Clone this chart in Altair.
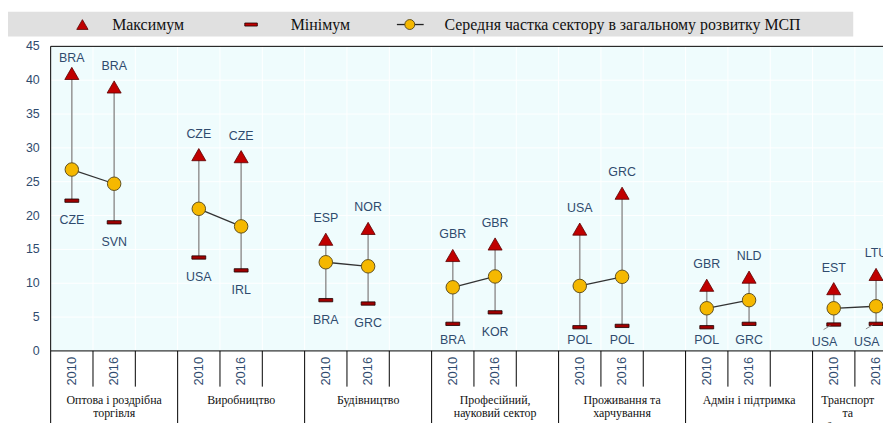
import altair as alt
import pandas as pd

# ---------------- data ----------------
categories = [
    "Оптова і роздрібна\nторгівля",
    "Виробництво",
    "Будівництво",
    "Професійний,\nнауковий сектор",
    "Проживання та\nхарчування",
    "Адмін і підтримка",
    "Транспорт\nта\nзберігання",
]
years = ["2010", "2016"]

max_2010 = [41.0, 29.0, 16.5, 14.1, 18.0, 9.7, 9.2]
max_2016 = [39.0, 28.7, 18.1, 15.8, 23.3, 10.9, 11.3]
mean_2010 = [26.8, 21.0, 13.1, 9.4, 9.6, 6.3, 6.3]
mean_2016 = [24.7, 18.4, 12.5, 11.0, 10.95, 7.5, 6.6]
min_2010 = [22.2, 13.8, 7.5, 4.0, 3.5, 3.5, 3.9]
min_2016 = [19.0, 11.9, 7.0, 5.7, 3.7, 4.0, 4.0]

max_cc_2010 = ["BRA", "CZE", "ESP", "GBR", "USA", "GBR", "EST"]
max_cc_2016 = ["BRA", "CZE", "NOR", "GBR", "GRC", "NLD", "LTU"]
min_cc_2010 = ["CZE", "USA", "BRA", "BRA", "POL", "POL", "USA"]
min_cc_2016 = ["SVN", "IRL", "GRC", "KOR", "POL", "GRC", "USA"]

y_ticks = [0, 5, 10, 15, 20, 25, 30, 35, 40, 45]
legend_labels = ["Максимум", "Мінімум", "Середня частка сектору в загальному розвитку МСП"]

# ---------------- layout constants ----------------
PLOT_W = 839
PLOT_H = 307
SLOT_PX = 128 / 3
XMAX = PLOT_W / SLOT_PX

LABEL_COLOR = "#2f4b6e"
SANS = "Liberation Sans"
SERIF = "Liberation Serif"

maxs = [max_2010, max_2016]
means = [mean_2010, mean_2016]
mins = [min_2010, min_2016]
maxcc = [max_cc_2010, max_cc_2016]
mincc = [min_cc_2010, min_cc_2016]

rows = []
for i, cat in enumerate(categories):
    for j, yr in enumerate(years):
        slot = 3 * i + j + 0.5
        mx, mn = maxs[j][i], mins[j][i]
        last = i == len(categories) - 1
        rows.append(dict(
            cat=str(i), year=yr, slot=slot,
            mx=mx, mean=means[j][i], mn=mn,
            mxcc=maxcc[j][i], mncc=mincc[j][i],
            mxly=min(mx + 3.1, 43.3),
            mnly=1.36 if last else max(mn - 2.9, 1.55),
            mnlx=slot - 0.22 if last else slot,
            lead=last,
            lx1=slot - 0.24, lx2=slot - 0.08,
            ly1=mn - 0.75, ly2=mn - 0.15,
        ))
df = pd.DataFrame(rows)
lead_df = df[df["lead"]]

# category label centred on the visible part of its band
cat_df = pd.DataFrame({"slot": [(3 * i + min(3 * i + 3, XMAX)) / 2 for i in range(len(categories))],
                       "label": categories})
long_div = pd.DataFrame({"slot": [3 * i for i in range(len(categories)) if 3 * i <= XMAX]})
short_div = pd.DataFrame({"slot": [s for s in range(1, 21) if s % 3 != 0 and s <= XMAX]})
vgrid = pd.DataFrame({"slot": [s for s in range(1, 21) if s <= XMAX]})
ygrid = pd.DataFrame({"v": y_ticks, "label": [str(t) for t in y_ticks]})
one = pd.DataFrame({"a": [0]})

xs = alt.Scale(domain=[0, XMAX], nice=False, zero=False)
ys = alt.Scale(domain=[0, 45], nice=False, zero=False)

def X(field):
    return alt.X(f"{field}:Q", scale=xs, axis=None)

def Y(field):
    return alt.Y(f"{field}:Q", scale=ys, axis=None)

# manual grid & axes
hgrid = alt.Chart(ygrid).mark_rule(color="white", strokeWidth=1).encode(
    y=Y("v"), x=alt.value(0), x2=alt.value(PLOT_W))
vgrid_l = alt.Chart(vgrid).mark_rule(color="white", strokeWidth=1).encode(
    x=X("slot"), y=alt.value(0), y2=alt.value(PLOT_H))
ylabels = alt.Chart(ygrid).mark_text(font=SANS, fontSize=12.5, color=LABEL_COLOR,
                                     align="right", baseline="middle").encode(
    y=Y("v"), x=alt.value(-11), text="label:N")
left_axis = alt.Chart(one).mark_rule(color="black", strokeWidth=1).encode(
    x=alt.value(0), y=alt.value(0), y2=alt.value(PLOT_H))
top_border = alt.Chart(one).mark_rule(color="black", strokeWidth=1).encode(
    x=alt.value(0), x2=alt.value(PLOT_W), y=alt.value(0))
bottom_axis = alt.Chart(one).mark_rule(color="black", strokeWidth=1).encode(
    x=alt.value(0), x2=alt.value(PLOT_W), y=alt.value(PLOT_H))

range_rule = alt.Chart(df).mark_rule(color="#9a9a9a", strokeWidth=1.6).encode(
    x=X("slot"), y=Y("mn"), y2="mx:Q")

mean_line = alt.Chart(df).mark_line(color="#333333", strokeWidth=1.3).encode(
    x=X("slot"), y=Y("mean"), detail="cat:N")

tri = alt.Chart(df).mark_point(shape="triangle-up", filled=True, fill="#c00000",
                               stroke="#5a0000", strokeWidth=0.8, size=200, opacity=1).encode(
    x=X("slot"), y=Y("mx"))

MIN_SHAPE = "M-1,-0.24L1,-0.24L1,0.24L-1,0.24Z"
mn_mark = alt.Chart(df).mark_point(shape=MIN_SHAPE, filled=True, fill="#a00000",
                                   stroke="#1a0000", strokeWidth=0.8, size=196, opacity=1).encode(
    x=X("slot"), y=Y("mn"))

circ = alt.Chart(df).mark_point(shape="circle", filled=True, fill="#f5b800",
                                stroke="#5f5020", strokeWidth=1, size=185, opacity=1).encode(
    x=X("slot"), y=Y("mean"))

mx_text = alt.Chart(df).mark_text(font=SANS, fontSize=12.5, color=LABEL_COLOR,
                                  baseline="middle", align="center").encode(
    x=X("slot"), y=Y("mxly"), text="mxcc:N")

mn_text = alt.Chart(df).mark_text(font=SANS, fontSize=12.5, color=LABEL_COLOR,
                                  baseline="middle", align="center").encode(
    x=X("mnlx"), y=Y("mnly"), text="mncc:N")

leaders = alt.Chart(lead_df).mark_rule(color="#8a8a8a", strokeWidth=1).encode(
    x=X("lx1"), x2="lx2:Q", y=Y("ly1"), y2="ly2:Q")

# x-axis area: year labels, dividers, category labels
year_text = alt.Chart(df).mark_text(font=SANS, fontSize=13, color=LABEL_COLOR,
                                    angle=270, align="center", baseline="middle").encode(
    x=X("slot"), y=alt.value(PLOT_H + 20.5), text="year:N")

long_lines = alt.Chart(long_div).mark_rule(color="black", strokeWidth=1).encode(
    x=X("slot"), y=alt.value(PLOT_H), y2=alt.value(PLOT_H + 100))

short_lines = alt.Chart(short_div).mark_rule(color="black", strokeWidth=1).encode(
    x=X("slot"), y=alt.value(PLOT_H), y2=alt.value(PLOT_H + 36))

cat_text = alt.Chart(cat_df).mark_text(font=SERIF, fontSize=12, color="#111111",
                                       align="center", baseline="alphabetic",
                                       lineBreak="\n", lineHeight=13.5).encode(
    x=X("slot"), y=alt.value(PLOT_H + 53.5), text="label:N")

# legend (drawn manually in the top padding)
LY = -22
leg_band = alt.Chart(one).mark_rect(color="#e0e0e0").encode(
    x=alt.value(-43), x2=alt.value(809), y=alt.value(-35), y2=alt.value(-10))
leg_tri = alt.Chart(one).mark_point(shape="triangle-up", filled=True, fill="#c00000",
                                    stroke="#5a0000", strokeWidth=0.8, size=130, opacity=1).encode(
    x=alt.value(32), y=alt.value(LY))
leg_min = alt.Chart(one).mark_point(shape=MIN_SHAPE, filled=True, fill="#c00000",
                                    stroke="#1a0000", strokeWidth=0.8, size=160, opacity=1).encode(
    x=alt.value(202), y=alt.value(LY))
leg_line = alt.Chart(one).mark_rule(color="#222222", strokeWidth=1.3).encode(
    x=alt.value(349), x2=alt.value(376), y=alt.value(LY))
leg_circ = alt.Chart(one).mark_point(shape="circle", filled=True, fill="#f5b800",
                                     stroke="#5f5020", strokeWidth=1, size=100, opacity=1).encode(
    x=alt.value(362), y=alt.value(LY))
leg_df = pd.DataFrame({"label": legend_labels, "px": [62, 242, 397]})
leg_text = alt.Chart(leg_df).mark_text(font=SERIF, fontSize=16, color="#111111",
                                       align="left", baseline="middle").encode(
    x=alt.X("px:Q", scale=None, axis=None), y=alt.value(LY + 1), text="label:N")

chart = alt.layer(
    hgrid, vgrid_l, left_axis, top_border, bottom_axis, ylabels,
    range_rule, mean_line, mn_mark, tri, circ,
    mx_text, mn_text, leaders,
    long_lines, short_lines, year_text, cat_text,
    leg_band, leg_tri, leg_min, leg_line, leg_circ, leg_text,
).properties(
    width=PLOT_W, height=PLOT_H,
    autosize=alt.AutoSizeParams(type="none"),
    padding={"left": 43, "top": 37, "right": 0, "bottom": 71},
    background="white",
).configure_view(fill="#effcfd", stroke="transparent")

chart.save("out.html", embed_options={"renderer": "svg", "actions": False})
